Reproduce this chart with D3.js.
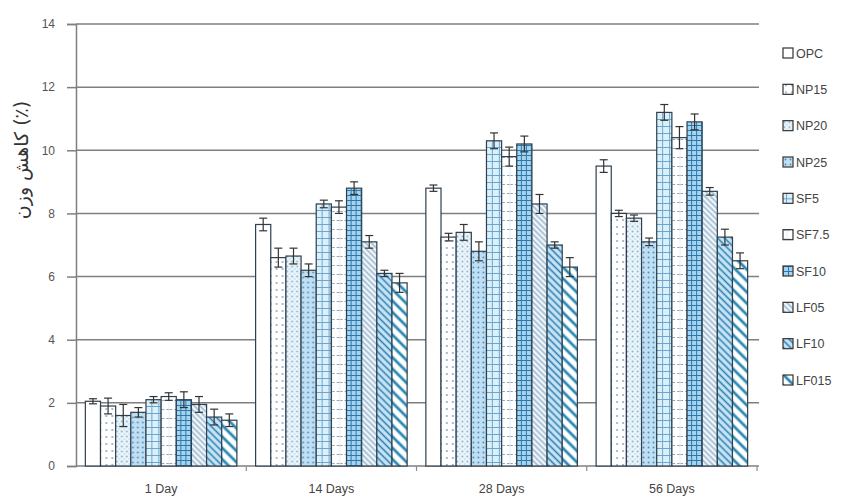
<!DOCTYPE html>
<html>
<head>
<meta charset="utf-8">
<script src="https://cdn.jsdelivr.net/npm/d3@7"></script>
<style>
  body { margin: 0; background: #fff; }
  text { font-family: "Liberation Sans", Arial, sans-serif; }
</style>
</head>
<body>
<div id="area"></div>
<script>
var width = 866;
var height = 500;

// data
var days = ["1 Day", "14 Days", "28 Days", "56 Days"];
var mixes = ["OPC", "NP15", "NP20", "NP25", "SF5", "SF7.5", "SF10", "LF05", "LF10", "LF015"];
var opc   = [2.05, 7.65, 8.8, 9.5];
var np15  = [1.9, 6.6, 7.25, 8.0];
var np20  = [1.6, 6.65, 7.4, 7.85];
var np25  = [1.7, 6.2, 6.8, 7.1];
var sf5   = [2.1, 8.3, 10.3, 11.2];
var sf75  = [2.2, 8.2, 9.8, 10.4];
var sf10  = [2.1, 8.8, 10.2, 10.9];
var lf05  = [1.95, 7.1, 8.3, 8.7];
var lf10  = [1.55, 6.1, 7.0, 7.25];
var lf015 = [1.45, 5.8, 6.3, 6.5];
var errs  = [
  [0.08, 0.2, 0.1, 0.2],
  [0.25, 0.3, 0.12, 0.1],
  [0.35, 0.25, 0.25, 0.1],
  [0.15, 0.2, 0.3, 0.12],
  [0.1, 0.12, 0.25, 0.25],
  [0.12, 0.2, 0.3, 0.35],
  [0.25, 0.2, 0.25, 0.25],
  [0.25, 0.2, 0.3, 0.12],
  [0.25, 0.1, 0.1, 0.25],
  [0.2, 0.3, 0.3, 0.25]
];
var yTicks = [0, 2, 4, 6, 8, 10, 12, 14];
var seriesVals = [opc, np15, np20, np25, sf5, sf75, sf10, lf05, lf10, lf015];

var svg = d3.select("#area").append("svg")
    .attr("width", width)
    .attr("height", height);

var defs = svg.append("defs");

// patterns for each mix
function pat(id, w, h, bg) {
    var p = defs.append("pattern")
        .attr("id", id)
        .attr("patternUnits", "userSpaceOnUse")
        .attr("width", w).attr("height", h);
    p.append("rect").attr("width", w).attr("height", h).attr("fill", bg);
    return p;
}
var p;
pat("p0", 4, 4, "#ffffff");

p = pat("p1", 6, 7, "#ffffff");
p.append("circle").attr("cx", 3).attr("cy", 3).attr("r", 0.9).attr("fill", "#7f9bb3");

p = pat("p2", 5, 5, "#eaf5fc");
p.append("circle").attr("cx", 1.5).attr("cy", 1.5).attr("r", 1).attr("fill", "#8fb0c8");
p.append("circle").attr("cx", 4).attr("cy", 4).attr("r", 0.8).attr("fill", "#b9cfdf");

p = pat("p3", 5, 5, "#bfe0f4");
p.append("circle").attr("cx", 2.5).attr("cy", 2.5).attr("r", 0.9).attr("fill", "#4e86b0");

p = pat("p4", 7, 7, "#dcf0fa");
p.append("path").attr("d", "M0,0.5H7M3.5,0V7").attr("stroke", "#6aa6cf").attr("stroke-width", 1);

p = pat("p5", 8, 9, "#ffffff");
p.append("path").attr("d", "M1,4.5H7").attr("stroke", "#8aa4b8").attr("stroke-width", 1);
p.append("path").attr("d", "M4,0V9").attr("stroke", "#e3eef5").attr("stroke-width", 1);

p = pat("p6", 5, 5, "#a6d3ee");
p.append("path").attr("d", "M0,0.5H5M0.5,0V5").attr("stroke", "#2c78ad").attr("stroke-width", 1);

p = pat("p7", 4, 4, "#eef7fc")
    .attr("patternTransform", "rotate(45)");
p.append("path").attr("d", "M0,2H4").attr("stroke", "#7394b3").attr("stroke-width", 1);

p = pat("p8", 5, 5, "#c9e6f6")
    .attr("patternTransform", "rotate(45)");
p.append("path").attr("d", "M0,2.5H5").attr("stroke", "#2f7fb2").attr("stroke-width", 1.6);

p = pat("p9", 8, 8, "#ffffff")
    .attr("patternTransform", "rotate(45)");
p.append("path").attr("d", "M0,4H8").attr("stroke", "#2a8ab2").attr("stroke-width", 2.8);

// scales
var x0 = d3.scaleBand().domain(days).range([76, 757]).paddingInner(0.11).paddingOuter(0.055);
var x1 = d3.scaleBand().domain(mixes).range([0, x0.bandwidth()]);
var y = d3.scaleLinear().domain([0, 14]).range([466, 24]);

// grid
svg.append("g")
    .selectAll("line")
    .data(yTicks.slice(1))
    .enter().append("line")
    .attr("x1", 76).attr("x2", 759)
    .attr("y1", function(d) { return y(d); })
    .attr("y2", function(d) { return y(d); })
    .attr("stroke", "#7f7f7f")
    .attr("stroke-width", 1.5);

// y axis
var yAxis = svg.append("g")
    .attr("transform", "translate(76,0)")
    .call(d3.axisLeft(y).tickValues(yTicks).tickSize(9).tickPadding(12));
yAxis.select(".domain").attr("stroke", "#7f7f7f").attr("stroke-width", 1.5);
yAxis.selectAll(".tick line").attr("stroke", "#7f7f7f").attr("stroke-width", 1.5);
yAxis.selectAll(".tick text")
    .attr("fill", "#555")
    .style("font-size", "12px")
    .style("font-family", "'Liberation Sans', Arial, sans-serif");

// x axis
var xAxis = svg.append("g").attr("transform", "translate(0,466)");
xAxis.append("line")
    .attr("x1", 76).attr("x2", 759)
    .attr("stroke", "#7f7f7f").attr("stroke-width", 1.5);
xAxis.selectAll("line.tk")
    .data(days)
    .enter().append("line")
    .attr("class", "tk")
    .attr("x1", function(d) { return x0(d) + x0.bandwidth() + x0.step() * x0.paddingInner() / 2; })
    .attr("x2", function(d) { return x0(d) + x0.bandwidth() + x0.step() * x0.paddingInner() / 2; })
    .attr("y1", 0).attr("y2", 5)
    .attr("stroke", "#8c8c8c").attr("stroke-width", 1.2);
xAxis.selectAll("text")
    .data(days)
    .enter().append("text")
    .attr("x", function(d) { return x0(d) + x0.bandwidth() / 2; })
    .attr("y", 27)
    .attr("text-anchor", "middle")
    .attr("fill", "#444")
    .style("font-size", "12.5px")
    .text(function(d) { return d; });

// bars
var groups = svg.append("g")
    .selectAll("g")
    .data(days)
    .enter().append("g")
    .attr("transform", function(d) { return "translate(" + x0(d) + ",0)"; });

groups.selectAll("rect")
    .data(function(d, i) {
        return mixes.map(function(m, j) { return { mix: m, k: j, v: seriesVals[j][i], e: errs[j][i] }; });
    })
    .enter().append("rect")
    .attr("x", function(d) { return x1(d.mix); })
    .attr("width", x1.bandwidth())
    .attr("y", function(d) { return y(d.v); })
    .attr("height", function(d) { return y(0) - y(d.v); })
    .attr("fill", function(d) { return "url(#p" + d.k + ")"; })
    .attr("stroke", "#2e3f4e")
    .attr("stroke-width", 1.2);

// error bars
var eb = groups.selectAll("g.err")
    .data(function(d, i) {
        return mixes.map(function(m, j) { return { mix: m, v: seriesVals[j][i], e: errs[j][i] }; });
    })
    .enter().append("g")
    .attr("class", "err")
    .attr("stroke", "#333")
    .attr("stroke-width", 1.2);
eb.append("line")
    .attr("x1", function(d) { return x1(d.mix) + x1.bandwidth() / 2; })
    .attr("x2", function(d) { return x1(d.mix) + x1.bandwidth() / 2; })
    .attr("y1", function(d) { return y(d.v - d.e); })
    .attr("y2", function(d) { return y(d.v + d.e); });
eb.append("line")
    .attr("x1", function(d) { return x1(d.mix) + x1.bandwidth() / 2 - 4; })
    .attr("x2", function(d) { return x1(d.mix) + x1.bandwidth() / 2 + 4; })
    .attr("y1", function(d) { return y(d.v + d.e); })
    .attr("y2", function(d) { return y(d.v + d.e); });
eb.append("line")
    .attr("x1", function(d) { return x1(d.mix) + x1.bandwidth() / 2 - 4; })
    .attr("x2", function(d) { return x1(d.mix) + x1.bandwidth() / 2 + 4; })
    .attr("y1", function(d) { return y(d.v - d.e); })
    .attr("y2", function(d) { return y(d.v - d.e); });

// legend
var ly = d3.scalePoint().domain(mixes).range([53, 380]);
var leg = svg.append("g")
    .selectAll("g")
    .data(mixes)
    .enter().append("g")
    .attr("transform", function(d) { return "translate(783," + ly(d) + ")"; });
leg.append("rect")
    .attr("x", 0).attr("y", -5)
    .attr("width", 10).attr("height", 10)
    .attr("fill", function(d, i) { return "url(#p" + i + ")"; })
    .attr("stroke", "#333")
    .attr("stroke-width", 1.2);
leg.append("text")
    .attr("x", 13).attr("y", 4.5)
    .attr("fill", "#444")
    .style("font-size", "12.5px")
    .text(function(d) { return d; });

// y label
svg.append("text")
    .attr("transform", "translate(28,160) rotate(-90)")
    .attr("text-anchor", "middle")
    .attr("fill", "#333")
    .style("font-size", "19px")
    .style("font-family", "'DejaVu Sans', sans-serif")
    .text("کاهش وزن (٪)");
</script>
</body>
</html>
